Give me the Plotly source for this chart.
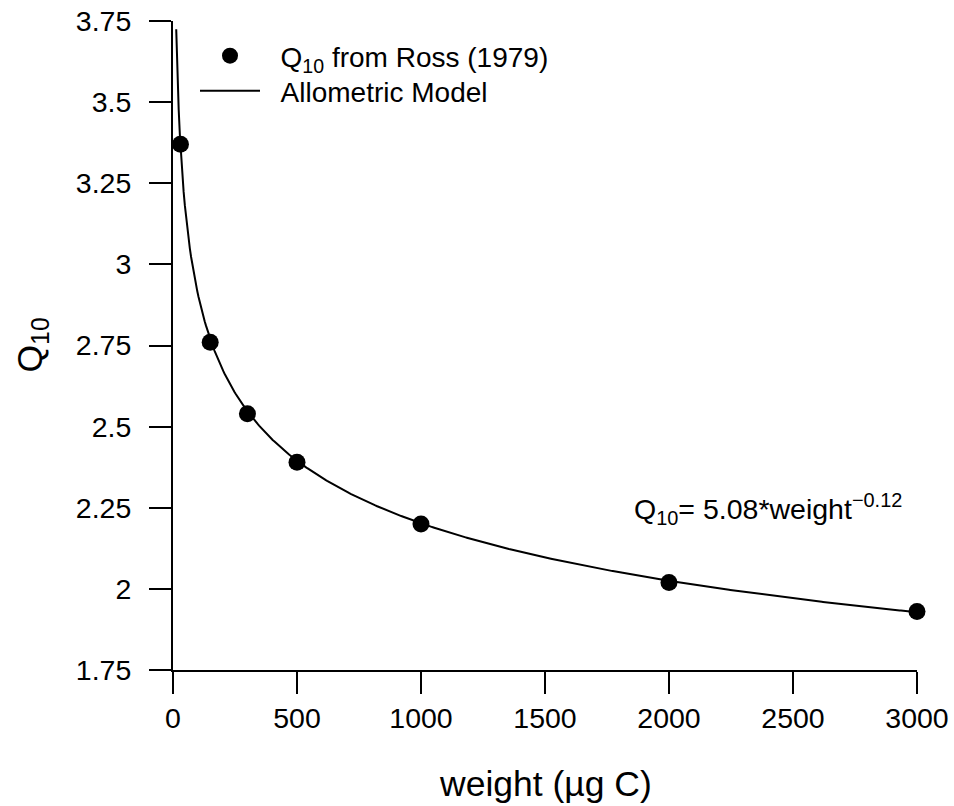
import numpy as np
import plotly.graph_objects as go

# Observed data (Ross 1979)
weight = [30, 150, 300, 500, 1000, 2000, 3000]
q10 = [3.37, 2.76, 2.54, 2.39, 2.20, 2.02, 1.93]

# Allometric model parameters (label shows rounded values; curve)
model_a = 5.08
model_b = -0.121
model_w_min = 13
model_w_max = 3000

x_ticks = [0, 500, 1000, 1500, 2000, 2500, 3000]
y_ticks = [1.75, 2, 2.25, 2.5, 2.75, 3, 3.25, 3.5, 3.75]
y_tick_text = ["1.75", "2", "2.25", "2.5", "2.75", "3", "3.25", "3.5", "3.75"]

w_curve = np.linspace(model_w_min, model_w_max, 600)
q_curve = model_a * w_curve ** model_b

FONT = "Liberation Sans, Arial, Helvetica, sans-serif"
NB = "\u00a0"

fig = go.Figure()
fig.add_trace(go.Scatter(
    x=weight, y=q10, mode="markers", name=NB * 2 + "Q<sub>10</sub> from Ross (1979)",
    marker=dict(color="black", size=17), cliponaxis=False, legend="legend",
))
fig.add_trace(go.Scatter(
    x=w_curve, y=q_curve, mode="lines", name=NB * 2 + "Allometric Model",
    line=dict(color="black", width=2), legend="legend2",
))

fig.add_annotation(
    x=2400, y=2.245, xref="x", yref="y", showarrow=False,
    text="Q<sub>10</sub>= 5.08*weight<sup>\u22120.12</sup>",
    font=dict(family=FONT, size=28.5, color="black"),
)
fig.add_annotation(
    x=0.5, y=0, xref="paper", yref="paper", showarrow=False,
    xanchor="center", yanchor="middle", yshift=-114,
    text="weight (\u00b5g C)", font=dict(family=FONT, size=35.5, color="black"),
)
fig.add_annotation(
    x=0, y=0.5, xref="paper", yref="paper", showarrow=False,
    xanchor="center", yanchor="middle", xshift=-142, textangle=-90,
    text="Q<sub>10</sub>", font=dict(family=FONT, size=35.5, color="black"),
)

legend_common = dict(
    xanchor="left", yanchor="top", bgcolor="rgba(0,0,0,0)",
    font=dict(family=FONT, size=28, color="black"), itemwidth=60,
)

fig.update_layout(
    width=954, height=806,
    margin=dict(l=173, r=37, t=21, b=136),
    paper_bgcolor="white", plot_bgcolor="white",
    font=dict(family=FONT, size=28.5, color="black"),
    showlegend=True,
    legend=dict(x=(195 - 173) / 744, y=(670 - 31) / 649, **legend_common),
    legend2=dict(x=(195 - 173) / 744, y=(670 - 66) / 649, **legend_common),
)
fig.update_xaxes(
    range=[0, 3000], tickvals=x_ticks, ticktext=[str(t) for t in x_ticks],
    showline=True, linecolor="black", linewidth=2, mirror=False,
    ticks="outside", ticklen=22, tickwidth=2, tickcolor="black",
    showgrid=False, zeroline=False, tickfont=dict(family=FONT, size=28.5),
    automargin=False,
)
fig.update_yaxes(
    range=[1.75, 3.75], tickvals=y_ticks, ticktext=y_tick_text,
    showline=True, linecolor="black", linewidth=2, mirror=False,
    ticks="outside", ticklen=22, tickwidth=2, tickcolor="black",
    showgrid=False, zeroline=False, tickfont=dict(family=FONT, size=28.5),
    ticklabelstandoff=12, automargin=False,
)

fig.write_html("out.html")
